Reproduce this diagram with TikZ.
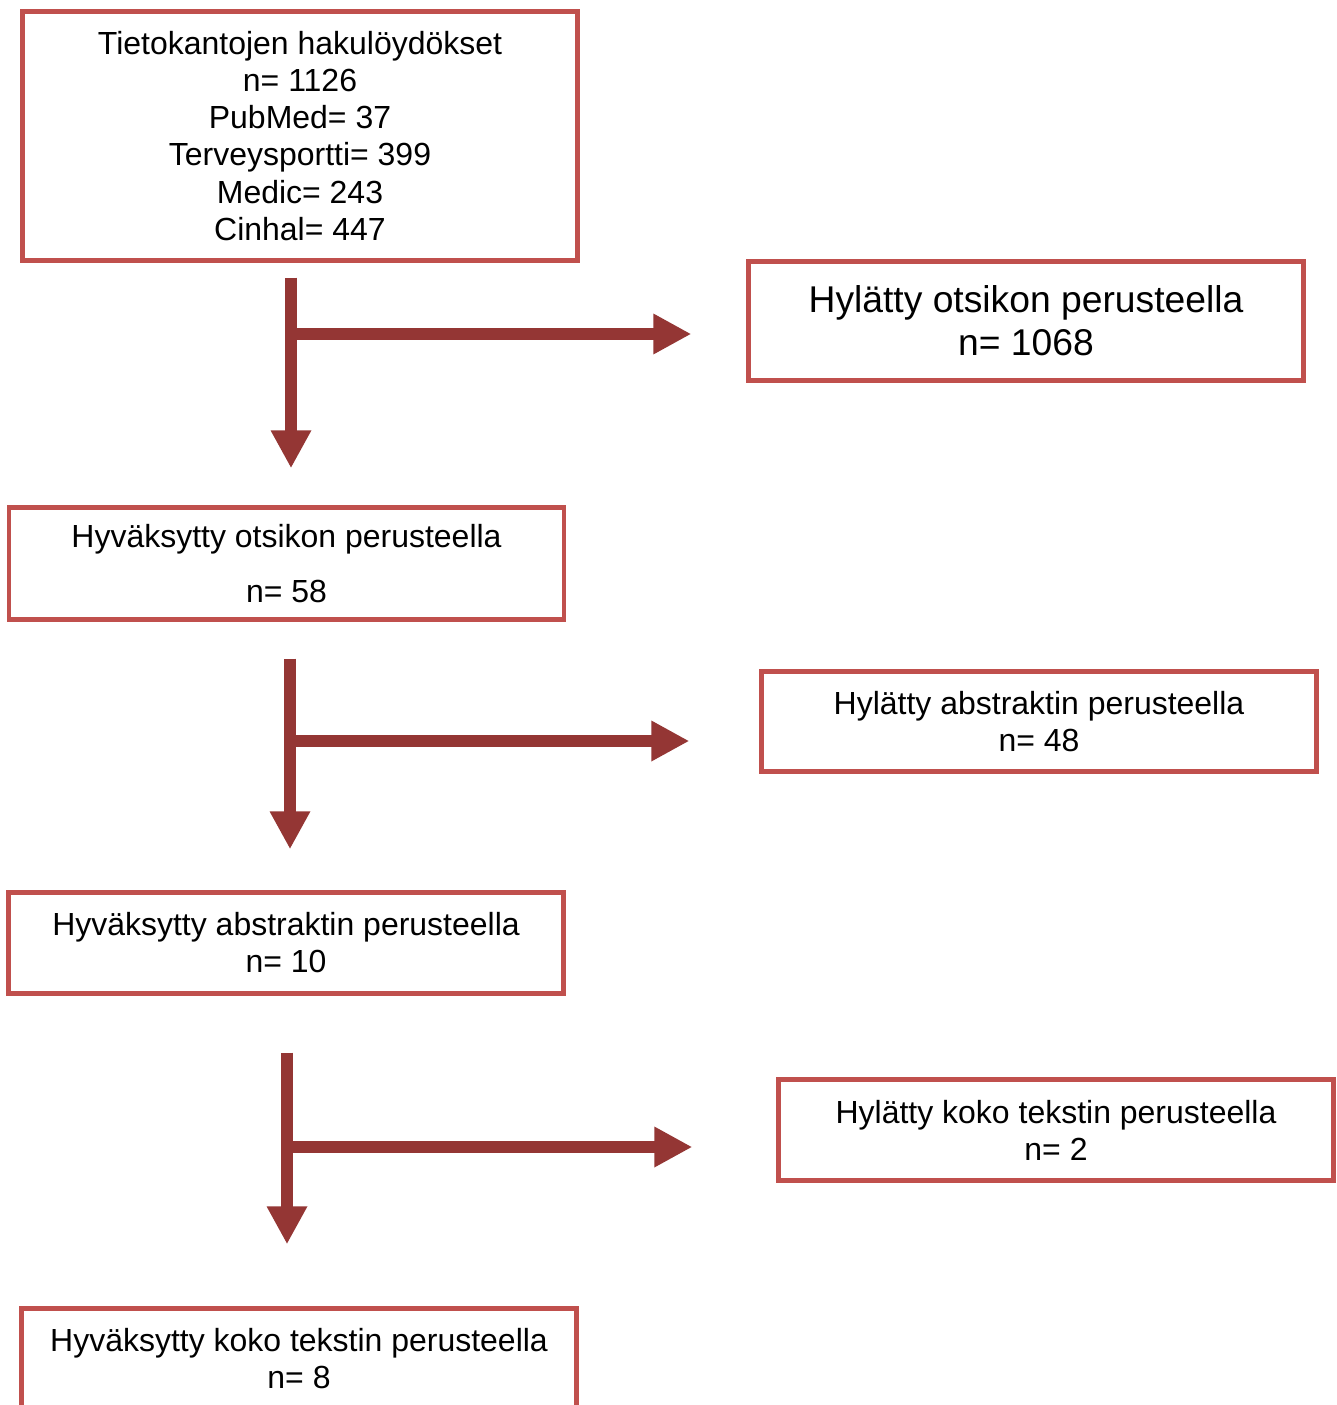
\documentclass[tikz,border=0pt]{standalone}
\usepackage{fontspec}
\setmainfont{Liberation Sans}
\usepackage{tikz}
\usetikzlibrary{arrows.meta}
\definecolor{laatikko}{HTML}{C0504D}
\definecolor{nuolivari}{HTML}{943634}

\begin{document}
\begin{tikzpicture}[x=0.02cm, y=-0.02cm,
    every node/.style={draw=laatikko, line width=0.09cm, minimum width=11.1cm, align=center, inner sep=0pt, font=\fontsize{18.2pt}{21.1pt}\selectfont},
    nuoli/.style={draw=nuolivari, line width=0.24cm, -{Triangle[length=0.76cm, width=0.76cm]}}]
    \useasboundingbox (0,0) rectangle (1336,1405);

    \node[minimum height=4.98cm] (haku) at (300,136) {Tietokantojen hakulöydökset\\n= 1126\\PubMed= 37\\Terveysportti= 399\\Medic= 243\\Cinhal= 447};
    \node[minimum height=2.38cm, font=\fontsize{21.2pt}{24.4pt}\selectfont] (hyl1) at (1026,321) {Hylätty otsikon perusteella\\n= 1068};
    \node[minimum height=2.24cm] (hyv1) at (286.5,563.5) {Hyväksytty otsikon perusteella\\[0.36cm]n= 58};
    \node[minimum height=2.0cm] (hyl2) at (1039,721.5) {Hylätty abstraktin perusteella\\n= 48};
    \node[minimum height=2.02cm] (hyv2) at (286,943) {Hyväksytty abstraktin perusteella\\n= 10};
    \node[minimum height=2.02cm] (hyl3) at (1056,1130) {Hylätty koko tekstin perusteella\\n= 2};
    \node[minimum height=2.0cm] (hyv3) at (299,1358.5) {Hyväksytty koko tekstin perusteella\\n= 8};

    \coordinate (x1) at (291,334);
    \coordinate (x2) at (290,741);
    \coordinate (x3) at (287,1147);

    \draw[nuoli, shorten <=0.3cm, shorten >=0.74cm] (haku.south -| x1) -- (hyv1.north -| x1);
    \draw[nuoli, shorten >=1.1cm] (x1) -- (x1 -| hyl1.west);
    \draw[nuoli, shorten <=0.74cm, shorten >=0.82cm] (hyv1.south -| x2) -- (hyv2.north -| x2);
    \draw[nuoli, shorten >=1.4cm] (x2) -- (x2 -| hyl2.west);
    \draw[nuoli, shorten <=1.14cm, shorten >=1.24cm] (hyv2.south -| x3) -- (hyv3.north -| x3);
    \draw[nuoli, shorten >=1.68cm] (x3) -- (x3 -| hyl3.west);
\end{tikzpicture}
\end{document}
